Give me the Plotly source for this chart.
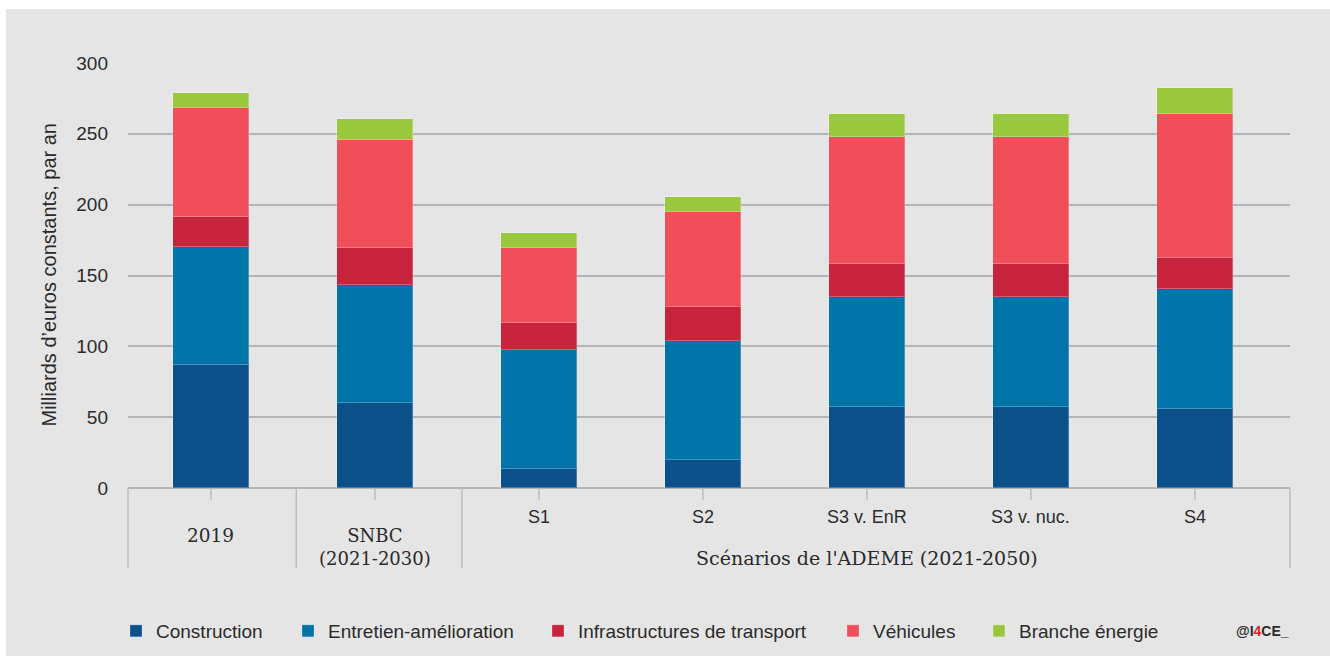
import plotly.graph_objects as go

# ---- data (Milliards d'euros constants, par an) ----
categories = ["2019", "SNBC", "S1", "S2", "S3 v. EnR", "S3 v. nuc.", "S4"]
construction = [86.6, 59.8, 13.2, 19.6, 57.2, 57.2, 56.0]
entretien = [83.3, 83.3, 84.0, 83.9, 77.6, 77.6, 84.5]
infrastructures = [21.2, 26.5, 19.5, 24.5, 23.5, 23.5, 21.9]
vehicules = [76.9, 75.8, 52.5, 66.6, 89.7, 89.7, 101.8]
branche = [10.6, 15.1, 10.6, 10.6, 16.0, 16.0, 17.9]

series_names = ["Construction", "Entretien-amélioration", "Infrastructures de transport",
                "Véhicules", "Branche énergie"]
series_values = [construction, entretien, infrastructures, vehicules, branche]
series_colors = ["#0b4f8b", "#0073a9", "#c7233c", "#ef4e5a", "#9ac83c"]

y_ticks = [0, 50, 100, 150, 200, 250, 300]

# category label texts
sans_labels = ["S1", "S2", "S3 v. EnR", "S3 v. nuc.", "S4"]
group_2019 = "2019"
group_snbc = "SNBC<br>(2021-2030)"
group_ademe = "Scénarios de l'ADEME (2021-2050)"

W, H = 1330, 656
L, R, T, B = 128, 40, 63, 168
plot_h = H - T - B
plot_w = W - L - R

def py(pix):
    """pixel y -> paper y"""
    return (H - B - pix) / plot_h

def px(pix):
    return (pix - L) / plot_w

x_idx = list(range(len(categories)))
legend_widths = [127, 205, 250, 101, 150]

fig = go.Figure()
for name, vals, col, lw in zip(series_names, series_values, series_colors, legend_widths):
    fig.add_trace(go.Bar(
        x=x_idx, y=vals, name=name, width=0.46,
        marker=dict(color=col, line=dict(color="rgba(255,255,255,0.25)", width=1)),
        legendwidth=lw,
        hovertemplate=name + ": %{y}<extra></extra>",
    ))

grid_col = "#b4b4b6"
sep_col = "#bdbdbd"
shapes = []
# background panel
shapes.append(dict(type="rect", xref="paper", yref="paper",
                   x0=px(6), x1=px(W), y0=py(9), y1=py(H),
                   fillcolor="#e5e5e5", line=dict(width=0), layer="below"))
# category separators below axis
for xs in [0, 1]:
    shapes.append(dict(type="line", xref="paper", yref="paper", x0=xs, x1=xs,
                       y0=0, y1=py(568), line=dict(color=sep_col, width=1.5)))
for xs in [0.52, 1.53]:
    shapes.append(dict(type="line", xref="x", yref="paper", x0=xs, x1=xs,
                       y0=0, y1=py(568), line=dict(color=sep_col, width=1.5)))
for xi in x_idx:
    shapes.append(dict(type="line", xref="x", yref="paper", x0=xi, x1=xi,
                       y0=0, y1=py(500), line=dict(color=sep_col, width=1.5)))

sans = "Liberation Sans, Arial, sans-serif"
serif = "DejaVu Serif, serif"
txt_col = "#2b2b2b"

annotations = []
for i, lab in enumerate(sans_labels):
    annotations.append(dict(x=i + 2, y=py(517), xref="x", yref="paper", text=lab,
                            showarrow=False, font=dict(family=sans, size=18, color=txt_col),
                            xanchor="center", yanchor="middle"))
annotations.append(dict(x=0, y=py(535), xref="x", yref="paper", text=group_2019,
                        showarrow=False, font=dict(family=serif, size=18.5, color=txt_col),
                        xanchor="center", yanchor="middle"))
annotations.append(dict(x=1, y=py(546.5), xref="x", yref="paper", text=group_snbc,
                        showarrow=False, font=dict(family=serif, size=18, color=txt_col),
                        xanchor="center", yanchor="middle"))
annotations.append(dict(x=4, y=py(558), xref="x", yref="paper", text=group_ademe,
                        showarrow=False, font=dict(family=serif, size=19, color=txt_col),
                        xanchor="center", yanchor="middle"))
# y axis title
annotations.append(dict(x=px(48), y=0.5, xref="paper", yref="paper",
                        text="Milliards d\u2019euros constants, par an", textangle=-90,
                        showarrow=False, font=dict(family=sans, size=20, color=txt_col),
                        xanchor="center", yanchor="middle"))
# logo
annotations.append(dict(x=px(1291), y=py(631), xref="paper", yref="paper",
                        text="<b>@I<span style='color:#e8202a'>4</span>CE_</b>",
                        showarrow=False, font=dict(family=sans, size=14, color="#2b2b2b"),
                        xanchor="right", yanchor="middle"))

fig.update_layout(
    width=W, height=H,
    margin=dict(l=L, r=R, t=T, b=B),
    paper_bgcolor="white",
    plot_bgcolor="rgba(0,0,0,0)",
    barmode="stack",
    bargap=0,
    font=dict(family=sans, size=18, color=txt_col),
    xaxis=dict(range=[-0.506, 6.58], showticklabels=False, showgrid=False,
               zeroline=False, showline=False, fixedrange=True),
    yaxis=dict(range=[0, 300], tickvals=y_ticks, showgrid=True, gridcolor=grid_col,
               gridwidth=1.5, zeroline=True, zerolinecolor=grid_col, zerolinewidth=1.5,
               showline=False, ticks="", ticklabelstandoff=19,
               tickfont=dict(family=sans, size=19, color=txt_col)),
    showlegend=True,
    legend=dict(orientation="h", xref="container", x=116 / W, xanchor="left",
                yref="container", y=1 - 631 / H, yanchor="middle",
                traceorder="normal", font=dict(family=sans, size=19, color=txt_col),
                bgcolor="rgba(0,0,0,0)", borderwidth=0),
    shapes=shapes,
    annotations=annotations,
)

fig.write_html("out.html")
